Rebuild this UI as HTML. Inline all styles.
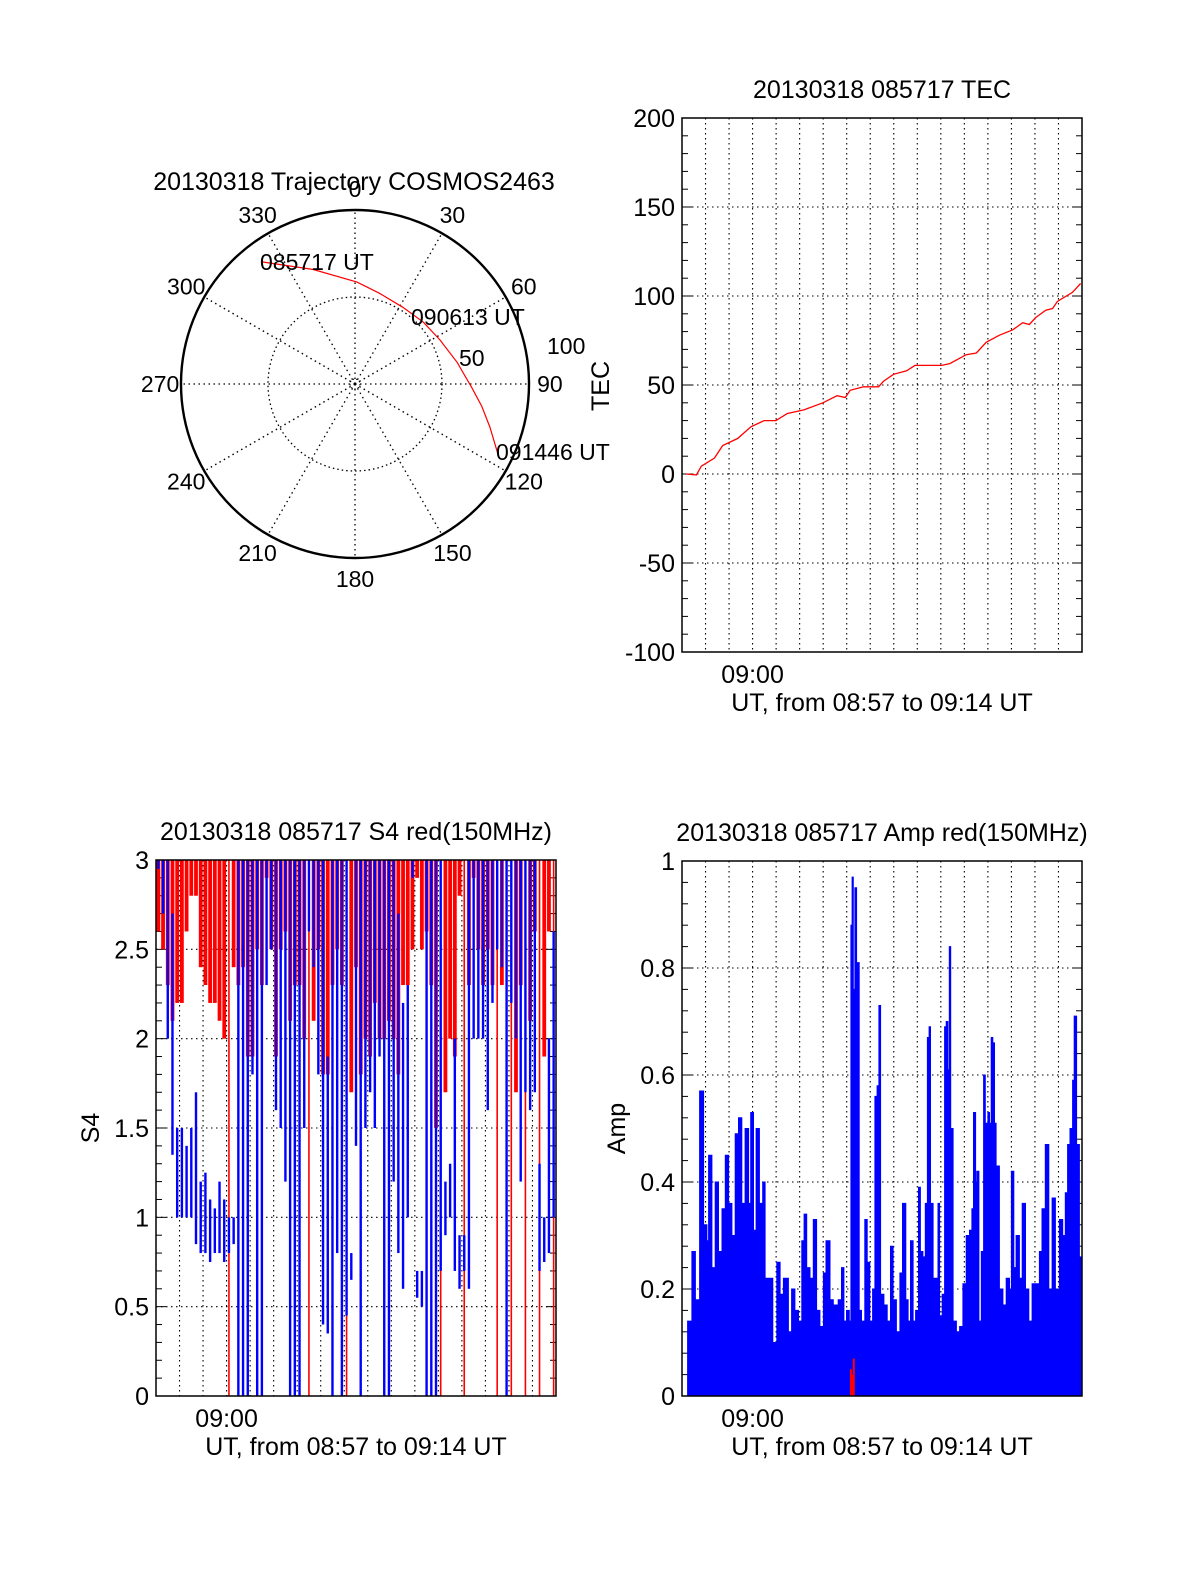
<!DOCTYPE html>
<html><head><meta charset="utf-8"><style>
html,body{margin:0;padding:0;background:#fff;}
svg{display:block;font-family:"Liberation Sans",sans-serif;}
</style></head><body>
<svg id="fig" width="1200" height="1575" viewBox="0 0 1200 1575">
<rect x="0" y="0" width="1200" height="1575" fill="#fff"/>
<g id="polar"></g>
<g id="tec"></g>
<g id="s4"></g>
<g id="amp"></g>
</svg>
<script>
// ---- Polar trajectory data ----
const trajAz  = [322.7, 340, 1.1, 15, 32, 48, 62.6, 78, 91.5, 100, 107.7, 115.8];
const trajZen = [88.2, 70, 58.6, 54, 52, 53, 55, 60, 67, 74, 81.4, 91];
const polarAngles = [0,30,60,90,120,150,180,210,240,270,300,330];
// ---- TEC data ----
const tecT = [0.18,0.61,0.82,1.38,1.73,2.37,2.93,3.49,3.99,4.48,5.18,5.99,6.59,6.94,7.15,7.72,8.35,8.56,8.99,9.55,9.9,10.54,11.03,11.38,12.08,12.51,12.93,13.49,14.06,14.48,14.76,15.04,15.46,15.75,15.96,16.59,16.94];
const tecV = [0,-0.5,4.4,9,16,20,26.5,30,30,34,36,40,44,43,47,49,49,52,56,58,61,61,61,62,67,68,74,78,81,85,84,88,92,93,97,102,107];
const tecTicks = [200,150,100,50,0,-50,-100];
// ---- S4 data (per 0.2-min bin: min / max) ----
const s4BlueLo = [2.95,2.7,2.0,1.35,1.0,1.0,1.0,1.0,0.85,0.8,0.8,0.75,0.8,0.8,0.75,0.8,0.85,0,0,0,1.8,0,0,2.3,2.5,1.6,1.5,1.2,0,0,0,1.5,2.6,2.4,1.8,0.4,0.35,0,0.8,0,0.45,0.65,1.4,0,1.5,1.7,1.5,1.9,0,0,1.2,0.8,0.6,1.0,2.9,0.55,0.5,0,0,0,0.7,0.9,1.0,0.7,0.6,0.7,0.6,2.0,2.0,2.0,1.6,2.2,2.5,2.4,0,2.2,2.0,1.2,1.7,1.6,1.7,0.7,0.75,0.8,1.0];
const s4BlueHi = [3,3,3,2.7,1.5,1.5,1.4,1.5,1.7,1.2,1.25,1.1,1.05,1.2,1.1,1.0,1.0,3,3,3,3,3,3,3,3,3,3,3,3,3,3,3,3,3,3,3,1.9,3,3,3,3,0.8,3,3,3,3,3,3,3,3,3,2.7,2.2,2.3,3,0.7,0.7,3,3,3,3,1.2,1.3,2.0,0.9,0.9,3,3,3,3,3,3,3,3,3,3,3,3,3,3,3,1.3,1.0,2.0,2.6];
const s4RedLo = [2.6,2.5,2.3,2.1,2.2,2.2,2.6,2.8,2.8,2.4,2.3,2.2,2.2,2.1,2.0,0,2.4,2.3,2.4,1.9,1.9,2.5,2.3,2.9,2.5,1.9,2.5,2.6,2.1,2.3,2.3,2.0,0,2.1,2.5,1.8,1.8,2.3,2.5,2.3,0,1.7,2.4,1.8,2.0,1.9,2.2,2.0,2.0,2.1,2.0,1.8,2.3,2.3,2.5,2.9,2.5,2.6,2.3,1.5,0,1.7,2.0,1.9,2.8,0,2.3,2.9,2.5,2.3,2.5,2.3,0,2.3,0,0,1.7,2.3,0,2.1,2.6,0,1.9,2.6,0];
const s4Ticks = [3,2.5,2,1.5,1,0.5,0];
const s4TickLabels = ["3","2.5","2","1.5","1","0.5","0"];
// ---- Amp data ----
const ampT = [0.24,0.42,0.57,0.75,0.92,1.06,1.13,1.27,1.41,1.55,1.70,1.84,1.98,2.12,2.26,2.40,2.54,2.68,2.83,2.92,3.04,3.15,3.29,3.43,3.53,3.67,3.86,4.03,4.17,4.31,4.52,4.66,4.80,4.95,5.09,5.19,5.30,5.44,5.58,5.72,5.86,6.01,6.12,6.29,6.43,6.64,6.78,6.88,6.99,7.11,7.18,7.23,7.28,7.35,7.42,7.53,7.63,7.77,7.87,7.98,8.10,8.20,8.29,8.37,8.44,8.58,8.72,8.86,8.97,9.11,9.26,9.37,9.51,9.61,9.71,9.82,9.93,10.05,10.13,10.24,10.34,10.43,10.50,10.56,10.67,10.88,10.95,11.06,11.16,11.23,11.30,11.36,11.42,11.52,11.66,11.80,11.94,12.08,12.22,12.32,12.39,12.48,12.53,12.62,12.72,12.82,12.89,13.00,13.07,13.14,13.21,13.28,13.35,13.49,13.64,13.78,13.92,14.00,14.10,14.20,14.34,14.46,14.60,14.74,14.88,15.02,15.19,15.30,15.44,15.59,15.73,15.87,16.04,16.18,16.29,16.39,16.49,16.60,16.67,16.77,16.89,17.0];
const ampV = [0.14,0.27,0.18,0.57,0.32,0.29,0.45,0.24,0.40,0.27,0.35,0.45,0.36,0.30,0.49,0.52,0.36,0.50,0.36,0.53,0.31,0.50,0.36,0.40,0.22,0.22,0.10,0.25,0.19,0.22,0.12,0.20,0.16,0.14,0.29,0.34,0.24,0.22,0.33,0.16,0.13,0.23,0.29,0.18,0.17,0.18,0.24,0.14,0.16,0.14,0.88,0.97,0.76,0.95,0.81,0.16,0.14,0.33,0.25,0.14,0.20,0.56,0.58,0.73,0.19,0.17,0.14,0.28,0.18,0.12,0.23,0.36,0.18,0.14,0.29,0.14,0.16,0.39,0.27,0.26,0.36,0.67,0.69,0.36,0.22,0.36,0.15,0.19,0.69,0.70,0.61,0.84,0.50,0.14,0.12,0.13,0.21,0.30,0.31,0.35,0.53,0.40,0.42,0.14,0.27,0.60,0.51,0.53,0.51,0.67,0.66,0.51,0.43,0.20,0.17,0.22,0.20,0.42,0.24,0.30,0.22,0.36,0.20,0.14,0.21,0.21,0.27,0.35,0.47,0.20,0.37,0.20,0.33,0.30,0.38,0.47,0.50,0.59,0.71,0.47,0.26,0.18];
const ampRedT = [7.18,7.24,7.30];
const ampRedV = [0.05,0.04,0.07];
const ampTicks = [1,0.8,0.6,0.4,0.2,0];
const ampTickLabels = ["1","0.8","0.6","0.4","0.2","0"];

const NS="http://www.w3.org/2000/svg";
const FS=25;
function mk(parent,tag,attrs,text){const e=document.createElementNS(NS,tag);for(const k in attrs)e.setAttribute(k,attrs[k]);if(text!==undefined)e.textContent=text;parent.appendChild(e);return e;}

// ---------- Polar ----------
(function(){
  const g=document.getElementById('polar');
  const cx=355,cy=384,R=174;
  const rr=z=>z/100*R;
  const pt=(az,z)=>[cx+rr(z)*Math.sin(az*Math.PI/180), cy-rr(z)*Math.cos(az*Math.PI/180)];
  let c=mk(g,'circle',{cx:cx,cy:cy,r:R,fill:'none',stroke:'#000','stroke-width':2.4});
  
  
  c=mk(g,'circle',{cx:cx,cy:cy,r:rr(50),fill:'none',stroke:'#000','stroke-width':1.3,'stroke-dasharray':'1.5 3'});
  
  
  c=mk(g,'circle',{cx:cx,cy:cy,r:5,fill:'none',stroke:'#000','stroke-width':1,'stroke-dasharray':'1.5 2'});
  
  
  polarAngles.forEach(a=>{
    const p=pt(a,100);
    const l=mk(g,'line',{x1:cx,y1:cy,x2:p[0],y2:p[1],stroke:'#000','stroke-width':1.3,'stroke-dasharray':'1.5 3.5'});
    
    
    const q=pt(a,112);
    const t=mk(g,'text',{x:q[0],y:q[1]+8,'font-size':23,'text-anchor':'middle'},String(a));
    
    
  });
  let d='';
  trajAz.forEach((a,i)=>{const p=pt(a,trajZen[i]);d+=(i?'L':'M')+p[0].toFixed(1)+' '+p[1].toFixed(1);});
  const path=mk(g,'path',{d:d,fill:'none',stroke:'#f00','stroke-width':1.2});
  
  
  const labs=[['085717 UT',260,270],['090613 UT',411,325],['091446 UT',496,460],['50',459,366],['100',547,354]];
  labs.forEach(L=>{const t=mk(g,'text',{x:L[1],y:L[2],'font-size':23},L[0]);
    
    });
  let t=mk(g,'text',{x:354,y:190,'font-size':FS,'text-anchor':'middle'},'20130318 Trajectory COSMOS2463');
  
  
  t=mk(g,'text',{x:609,y:386,'font-size':FS,'text-anchor':'middle',transform:'rotate(-90 609 386)'},'TEC');
  
  
})();

// ---------- Generic axes ----------
function axes(g,L,T,W,H,ymin,ymax,ticks,labels,minorStep,title,ytitle,ytx){
  const X=t=>L+t/17*W;
  const Y=v=>T+(ymax-v)/(ymax-ymin)*H;
  for(let m=1;m<17;m++){
    const l=mk(g,'line',{x1:X(m),y1:T,x2:X(m),y2:T+H,stroke:'#000','stroke-width':1.1,'stroke-dasharray':'1.5 3.5'});
    
    
  }
  ticks.forEach((v,i)=>{
    if(v!==ymin&&v!==ymax){
      const l=mk(g,'line',{x1:L,y1:Y(v),x2:L+W,y2:Y(v),stroke:'#000','stroke-width':1.1,'stroke-dasharray':'1.5 3.5'});
      
      
    }
    const t=mk(g,'text',{x:L-7,y:Y(v)+9,'font-size':FS,'text-anchor':'end'},labels[i]);
    
    
  });
  const n=Math.round((ymax-ymin)/minorStep);
  for(let k=0;k<=n;k++){
    const v=ymin+k*minorStep;
    const len=(Math.abs(((v-ymin)/minorStep)%5)<1e-6)?10:6;
    let l=mk(g,'line',{x1:L,y1:Y(v),x2:L+len,y2:Y(v),stroke:'#000','stroke-width':1});
    
    
    l=mk(g,'line',{x1:L+W-len,y1:Y(v),x2:L+W,y2:Y(v),stroke:'#000','stroke-width':1});
    
    
  }
  let t=mk(g,'text',{x:X(3),y:T+H+31,'font-size':FS,'text-anchor':'middle'},'09:00');
  
  
  t=mk(g,'text',{x:L+W/2,y:T+H+59,'font-size':FS,'text-anchor':'middle'},'UT, from 08:57 to 09:14 UT');
  
  
  t=mk(g,'text',{x:L+W/2,y:T-20,'font-size':FS,'text-anchor':'middle'},title);
  
  
  if(ytitle){
    const yy=T+H/2;
    t=mk(g,'text',{x:ytx,y:yy,'font-size':FS,'text-anchor':'middle',transform:'rotate(-90 '+ytx+' '+yy+')'},ytitle);
    
    
  }
  return {X,Y};
}
function frame(g,L,T,W,H){
  const r=mk(g,'rect',{x:L,y:T,width:W,height:H,fill:'none',stroke:'#000','stroke-width':1.5});
  
  
}

// ---------- TEC ----------
(function(){
  const g=document.getElementById('tec');
  const L=682,T=118,W=400,H=534;
  const a=axes(g,L,T,W,H,-100,200,tecTicks,tecTicks.map(String),10,'20130318 085717 TEC',null,0);
  let d='';
  tecT.forEach((t,i)=>{d+=(i?'L':'M')+a.X(t).toFixed(1)+' '+a.Y(tecV[i]).toFixed(1);});
  const p=mk(g,'path',{d:d,fill:'none',stroke:'#f00','stroke-width':1.3});
  
  
  frame(g,L,T,W,H);
})();

// ---------- S4 ----------
(function(){
  const g=document.getElementById('s4');
  const L=156,T=860,W=400,H=536;
  const a=axes(g,L,T,W,H,0,3,s4Ticks,s4TickLabels,0.1,'20130318 085717 S4 red(150MHz)','S4',99);
  const bin=0.2;
  s4RedLo.forEach((lo,i)=>{
    const x=a.X((i+0.5)*bin);
    const w=lo===0?1.6:3.8;
    const r=mk(g,'rect',{x:x-w/2,y:a.Y(3),width:w,height:a.Y(lo)-a.Y(3),fill:'#f00'});
    
    
  });
  s4BlueLo.forEach((lo,i)=>{
    const x=a.X((i+0.5)*bin);
    const r=mk(g,'rect',{x:x-1.2,y:a.Y(s4BlueHi[i]),width:2.4,height:a.Y(lo)-a.Y(s4BlueHi[i]),fill:'#00f'});
    
    
  });
  frame(g,L,T,W,H);
})();

// ---------- Amp ----------
(function(){
  const g=document.getElementById('amp');
  const L=682,T=861,W=400,H=535;
  const a=axes(g,L,T,W,H,0,1,ampTicks,ampTickLabels,0.04,'20130318 085717 Amp red(150MHz)','Amp',625);
  let d='M'+a.X(ampT[0]).toFixed(1)+' '+a.Y(0);
  ampT.forEach((t,i)=>{
    const x0=a.X(t), x1=a.X(i+1<ampT.length?ampT[i+1]:t);
    d+='L'+x0.toFixed(1)+' '+a.Y(ampV[i]).toFixed(1)+'L'+x1.toFixed(1)+' '+a.Y(ampV[i]).toFixed(1);
  });
  d+='L'+a.X(ampT[ampT.length-1]).toFixed(1)+' '+a.Y(0)+'Z';
  const p=mk(g,'path',{d:d,fill:'#00f',stroke:'#00f','stroke-width':1});
  
  
  ampRedT.forEach((t,i)=>{
    const r=mk(g,'rect',{x:a.X(t)-1,y:a.Y(ampRedV[i]),width:2,height:a.Y(0)-a.Y(ampRedV[i]),fill:'#f00'});
    
    
  });
  frame(g,L,T,W,H);
})();
</script>
</body></html>
